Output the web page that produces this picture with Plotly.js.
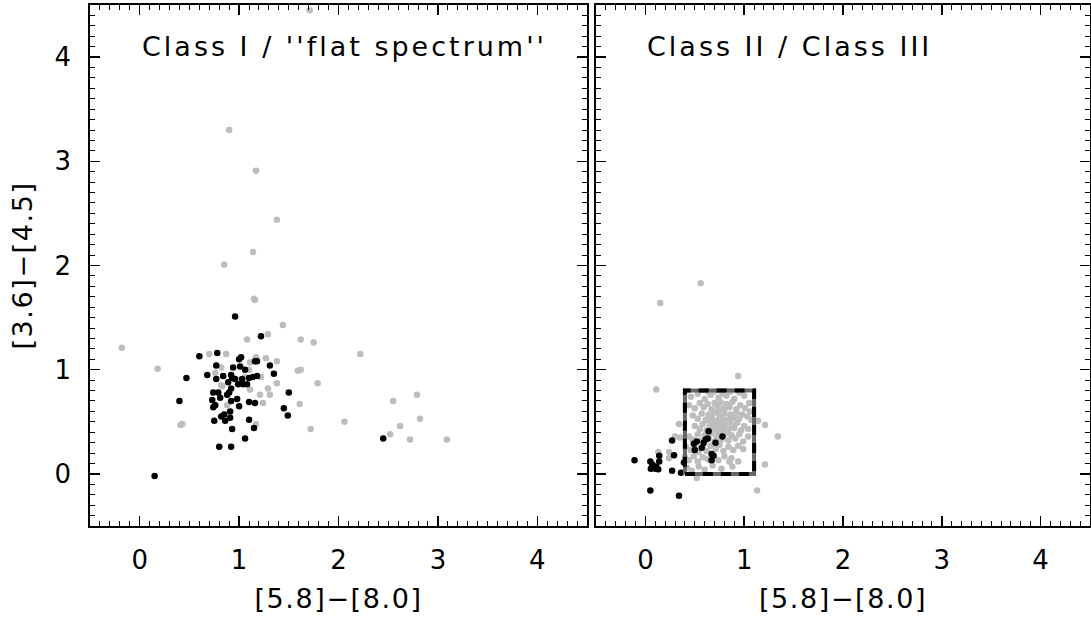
<!DOCTYPE html>
<html>
<head>
<meta charset="utf-8">
<script src="https://cdn.plot.ly/plotly-3.0.1.min.js"></script>
<style>
html,body{margin:0;padding:0;background:#fff;}
#chart{width:1091px;height:620px;}
text.annotation-text{letter-spacing:3px;}
text.xtitle, text.x2title, text.ytitle{letter-spacing:1.6px;}
</style>
</head>
<body>
<div id="chart"></div>
<script>
// ---- Left panel: Class I / flat spectrum ----
var leftGrayX = [-0.18,0.18,0.41,0.43,1.15,1.16,1.44,1.29,1.08,1.62,1.75,2.22,0.70,0.87,1.17,1.27,1.38,1.11,0.82,1.10,0.76,1.59,1.62,1.22,1.06,1.79,1.38,0.82,1.11,1.29,1.21,1.31,1.24,0.88,1.61,1.17,1.72,2.06,2.52,2.55,2.79,2.62,2.82,2.72,3.09,0.90,1.17,1.38,1.14,0.85,1.71,1.17,0.83];
var leftGrayY = [1.21,1.01,0.47,0.48,1.68,1.67,1.43,1.34,1.29,1.29,1.26,1.15,1.15,1.15,1.11,1.11,1.08,1.07,1.02,1.00,0.97,0.99,1.00,0.93,0.93,0.87,0.87,0.85,0.81,0.82,0.76,0.76,0.68,0.66,0.67,0.48,0.43,0.50,0.38,0.70,0.76,0.46,0.53,0.33,0.33,3.30,2.91,2.44,2.13,2.01,4.45,1.12,0.84];
var leftBlackX = [0.96,1.22,0.60,0.78,0.77,1.00,1.02,1.16,1.18,1.31,0.94,1.01,1.06,1.35,0.68,0.47,0.77,0.84,0.92,0.93,0.89,0.96,1.03,1.10,1.14,1.18,0.99,1.04,1.08,0.92,0.90,0.74,0.79,0.81,0.88,0.73,0.98,0.92,0.76,0.74,1.00,1.10,1.16,1.50,1.45,1.49,0.40,0.91,0.85,0.82,0.91,0.75,0.86,1.10,0.93,1.15,1.06,0.80,0.92,0.15,2.45];
var leftBlackY = [1.51,1.32,1.13,1.16,1.04,1.10,1.12,1.08,1.08,1.04,1.02,1.03,1.00,0.96,0.95,0.92,0.91,0.94,0.95,0.92,0.88,0.91,0.91,0.92,0.93,0.94,0.86,0.86,0.86,0.82,0.78,0.78,0.78,0.73,0.76,0.71,0.72,0.70,0.66,0.64,0.65,0.69,0.68,0.78,0.63,0.56,0.70,0.60,0.57,0.55,0.54,0.51,0.51,0.52,0.43,0.44,0.34,0.26,0.26,-0.02,0.34];

// ---- Right panel: Class II / Class III ----
var rightGrayX = [0.56,0.15,0.11,0.94,1.34,1.21,1.14,1.21,1.13,0.52,0.85,0.13,0.30,0.34,0.24,0.35,0.24,1.06,
  0.46,0.53,0.60,0.66,0.70,0.74,0.78,0.82,0.86,0.90,0.95,1.00,0.63,
  0.44,0.50,0.55,0.59,0.63,0.67,0.70,0.73,0.76,0.79,0.82,0.85,0.88,0.92,0.96,1.01,1.05,
  0.48,0.53,0.57,0.61,0.64,0.67,0.70,0.72,0.75,0.77,0.80,0.83,0.86,0.89,0.92,0.95,0.98,1.03,1.07,
  0.50,0.55,0.58,0.62,0.65,0.68,0.71,0.73,0.76,0.79,0.81,0.84,0.87,0.90,0.93,0.97,1.00,1.04,0.74,
  0.44,0.48,0.53,0.57,0.60,0.64,0.67,0.70,0.74,0.77,0.80,0.84,0.87,0.91,0.95,0.99,1.04,
  0.41,0.46,0.50,0.54,0.58,0.62,0.66,0.71,0.75,0.79,0.84,0.89,0.94,0.99,
  0.40,0.44,0.49,0.53,0.58,0.63,0.68,0.74,0.80,0.87,0.94,
  0.42,0.47,0.54,0.60,0.68,0.77,0.88,
  0.70,0.78,0.82,0.86,0.74,0.66,0.90,0.80,0.76,0.72];
var rightGrayY = [1.83,1.64,0.81,0.94,0.36,0.47,0.51,0.09,-0.16,-0.04,0.12,0.21,0.36,0.48,0.15,0.35,0.21,0.60,
  0.74,0.77,0.72,0.76,0.79,0.73,0.77,0.75,0.79,0.72,0.78,0.75,0.79,
  0.66,0.63,0.68,0.64,0.67,0.62,0.68,0.65,0.69,0.63,0.67,0.64,0.69,0.62,0.66,0.63,0.68,
  0.56,0.53,0.58,0.52,0.57,0.54,0.59,0.51,0.56,0.53,0.58,0.52,0.57,0.54,0.59,0.53,0.57,0.55,0.52,
  0.46,0.43,0.48,0.42,0.47,0.44,0.49,0.41,0.46,0.43,0.48,0.42,0.47,0.44,0.49,0.42,0.46,0.43,0.51,
  0.36,0.33,0.38,0.32,0.37,0.34,0.39,0.31,0.36,0.33,0.38,0.32,0.37,0.34,0.38,0.31,0.36,
  0.26,0.23,0.28,0.21,0.26,0.22,0.27,0.24,0.28,0.22,0.26,0.23,0.27,0.24,
  0.16,0.13,0.17,0.12,0.16,0.14,0.18,0.13,0.17,0.15,0.12,
  0.06,0.03,0.07,0.04,0.08,0.05,0.07,
  0.45,0.50,0.40,0.52,0.60,0.50,0.55,0.62,0.40,0.35];
var rightBlackX = [-0.11,0.05,0.07,0.055,0.10,0.13,0.14,0.14,0.11,0.05,0.34,0.27,0.36,0.29,0.27,0.39,0.49,0.52,0.50,0.57,0.59,0.61,0.63,0.64,0.71,0.78,0.67,0.69,0.67];
var rightBlackY = [0.13,0.12,0.09,0.05,0.05,0.045,0.12,0.175,0.07,-0.16,-0.21,0.03,0.01,0.18,0.32,0.11,0.29,0.31,0.23,0.25,0.30,0.33,0.34,0.41,0.30,0.36,0.19,0.175,0.13];

// selection box (data units)
var boxX = [0.4, 1.1, 1.1, 0.4, 0.4];
var boxY = [0.0, 0.0, 0.8, 0.8, 0.0];

var xTickVals = [0, 1, 2, 3, 4];
var yTickVals = [0, 1, 2, 3, 4];
var xTitle = '[5.8]\u2212[8.0]';
var yTitle = '[3.6]\u2212[4.5]';
var leftLabel = 'Class I / \'\'flat spectrum\'\'';
var rightLabel = 'Class II / Class III';

var GRAY = '#bdbdbd';
var FONT = 'DejaVu Sans, sans-serif';
var msize = 6.5;

var traces = [
  {x: leftGrayX, y: leftGrayY, xaxis: 'x', yaxis: 'y', mode: 'markers', type: 'scatter',
   marker: {color: GRAY, size: msize}, hoverinfo: 'skip'},
  {x: leftBlackX, y: leftBlackY, xaxis: 'x', yaxis: 'y', mode: 'markers', type: 'scatter',
   marker: {color: '#000', size: msize}, hoverinfo: 'skip'},
  {x: rightGrayX, y: rightGrayY, xaxis: 'x2', yaxis: 'y2', mode: 'markers', type: 'scatter',
   marker: {color: GRAY, size: msize}, hoverinfo: 'skip'},
  {x: rightBlackX, y: rightBlackY, xaxis: 'x2', yaxis: 'y2', mode: 'markers', type: 'scatter',
   marker: {color: '#000', size: msize}, hoverinfo: 'skip'},
  {x: boxX, y: boxY, xaxis: 'x2', yaxis: 'y2', mode: 'lines', type: 'scatter',
   line: {color: '#666', width: 4}, hoverinfo: 'skip'},
  {x: boxX, y: boxY, xaxis: 'x2', yaxis: 'y2', mode: 'lines', type: 'scatter',
   line: {color: '#000', width: 4, dash: '10px,8px'}, hoverinfo: 'skip'}
];

function xax(domain, anchor) {
  return {
    domain: domain, anchor: anchor, range: [-0.5, 4.5], showgrid: false, zeroline: false,
    showline: true, linecolor: '#000', linewidth: 1.8, mirror: 'ticks',
    ticks: 'inside', ticklen: 10, tickwidth: 1.5, tickcolor: '#000',
    tickvals: xTickVals, ticktext: xTickVals.map(String),
    minor: {dtick: 0.1, ticks: 'inside', ticklen: 5, tickwidth: 1, tickcolor: '#000', showgrid: false},
    tickfont: {family: FONT, size: 26, color: '#000'}, ticklabelstandoff: 10,
    title: {text: xTitle, font: {family: FONT, size: 27, color: '#000'}, standoff: 15}
  };
}
function yax(anchor, showLabels, withTitle) {
  var a = {
    anchor: anchor, domain: [0, 1], range: [-0.5, 4.5], showgrid: false, zeroline: false,
    showline: true, linecolor: '#000', linewidth: 1.8, mirror: 'ticks',
    ticks: 'inside', ticklen: 10, tickwidth: 1.5, tickcolor: '#000',
    tickvals: yTickVals, ticktext: yTickVals.map(String), showticklabels: showLabels,
    minor: {dtick: 0.1, ticks: 'inside', ticklen: 5, tickwidth: 1, tickcolor: '#000', showgrid: false},
    tickfont: {family: FONT, size: 26, color: '#000'}, ticklabelstandoff: 12
  };
  if (withTitle) a.title = {text: yTitle, font: {family: FONT, size: 27, color: '#000'}, standoff: 14};
  return a;
}

var layout = {
  width: 1091, height: 620,
  margin: {l: 90, r: 1, t: 5, b: 94, pad: 0},
  paper_bgcolor: '#fff', plot_bgcolor: '#fff',
  showlegend: false,
  xaxis: xax([0, 0.497], 'y'),
  yaxis: yax('x', true, true),
  xaxis2: xax([0.506, 1], 'y2'),
  yaxis2: yax('x2', false, false),
  annotations: [
    {text: leftLabel, xref: 'x', yref: 'y', x: 0, y: 4.1, xanchor: 'left', yanchor: 'middle',
     showarrow: false, font: {family: FONT, size: 27, color: '#000'}},
    {text: rightLabel, xref: 'x2', yref: 'y2', x: 0, y: 4.1, xanchor: 'left', yanchor: 'middle',
     showarrow: false, font: {family: FONT, size: 27, color: '#000'}}
  ]
};

Plotly.newPlot('chart', traces, layout, {staticPlot: true, displayModeBar: false});
</script>
</body>
</html>
